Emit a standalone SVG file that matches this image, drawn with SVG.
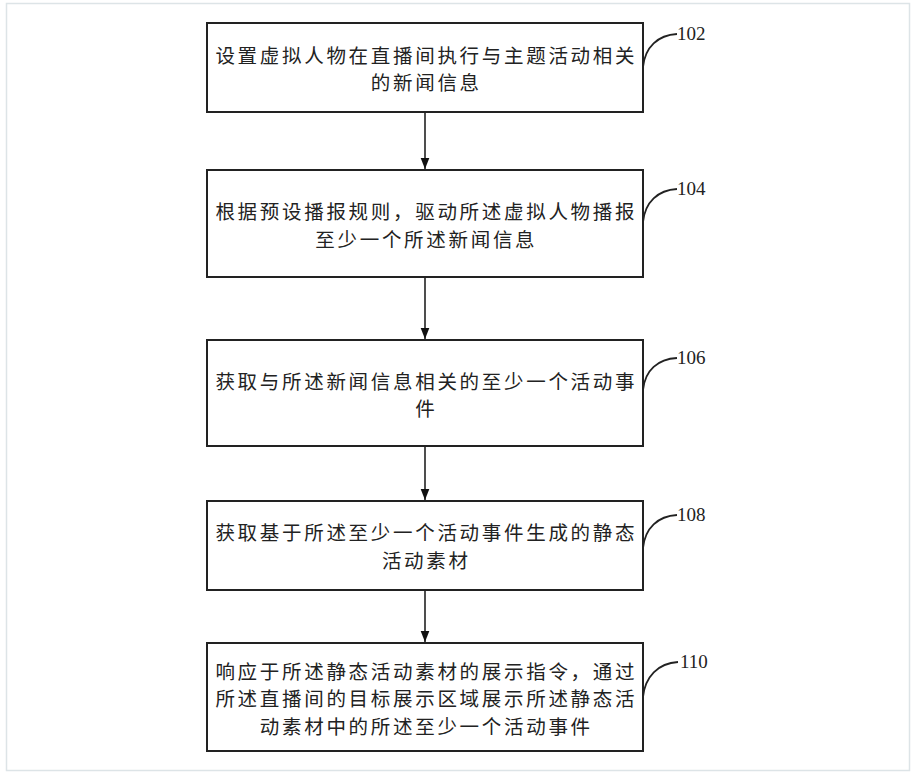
<svg xmlns="http://www.w3.org/2000/svg" width="917" height="780" viewBox="0 0 917 780">
<style>
.frame{fill:#fff;stroke:#dde4e7;stroke-width:1.5}
.box{fill:#fff;stroke:#222;stroke-width:2}
.t{font-family:"Noto Sans CJK SC","Noto Sans CJK JP",sans-serif;font-size:19.5px;fill:#222;text-anchor:middle;letter-spacing:2.7px;dominant-baseline:central}
.lbl{font-family:"Liberation Serif",serif;font-size:19px;fill:#222}
.lead{fill:none;stroke:#222;stroke-width:1.8}
.conn{stroke:#222;stroke-width:1.6;fill:none}
</style>
<defs>
<marker id="ah" markerWidth="11" markerHeight="15" refX="14" refY="5.5" orient="auto" markerUnits="userSpaceOnUse" viewBox="0 0 14 11">
<path d="M0,0 L14,5.5 L0,11 Z" fill="#111"/>
</marker>
</defs>
<rect class="frame" x="6.5" y="3.5" width="903" height="767"/>
<g id="connectors">
<line class="conn" x1="425" y1="112" x2="425" y2="169" marker-end="url(#ah)"/>
<line class="conn" x1="425" y1="277" x2="425" y2="339" marker-end="url(#ah)"/>
<line class="conn" x1="425" y1="446" x2="425" y2="500" marker-end="url(#ah)"/>
<line class="conn" x1="425" y1="590" x2="425" y2="642" marker-end="url(#ah)"/>
</g>
<g id="n102">
<rect class="box" x="207" y="23" width="436" height="89"/>
<text class="t" x="426.3" y="54">设置虚拟人物在直播间执行与主题活动相关</text>
<text class="t" x="426.3" y="81">的新闻信息</text>
<path class="lead" d="M643,67 C645,47 658,35 677,34"/>
<text class="lbl" x="677" y="40">102</text>
</g>
<g id="n104">
<rect class="box" x="207" y="170" width="436" height="107"/>
<text class="t" x="426.3" y="210">根据预设播报规则，驱动所述虚拟人物播报</text>
<text class="t" x="426.3" y="238">至少一个所述新闻信息</text>
<path class="lead" d="M643,222 C645,202 658,190 677,189"/>
<text class="lbl" x="677" y="195">104</text>
</g>
<g id="n106">
<rect class="box" x="207" y="340" width="436" height="106"/>
<text class="t" x="426.3" y="380">获取与所述新闻信息相关的至少一个活动事</text>
<text class="t" x="426.3" y="407">件</text>
<path class="lead" d="M643,390 C645,370 658,359 677,358"/>
<text class="lbl" x="677" y="364">106</text>
</g>
<g id="n108">
<rect class="box" x="207" y="501" width="436" height="89"/>
<text class="t" x="426.3" y="531">获取基于所述至少一个活动事件生成的静态</text>
<text class="t" x="426.3" y="559">活动素材</text>
<path class="lead" d="M643,548 C645,528 658,516 677,515"/>
<text class="lbl" x="677" y="521">108</text>
</g>
<g id="n110">
<rect class="box" x="207" y="643" width="436" height="108"/>
<text class="t" x="426.3" y="670">响应于所述静态活动素材的展示指令，通过</text>
<text class="t" x="426.3" y="697">所述直播间的目标展示区域展示所述静态活</text>
<text class="t" x="426.3" y="725">动素材中的所述至少一个活动事件</text>
<path class="lead" d="M643,697 C645,677 658,663 678,662"/>
<text class="lbl" x="680" y="668">110</text>
</g>
</svg>
